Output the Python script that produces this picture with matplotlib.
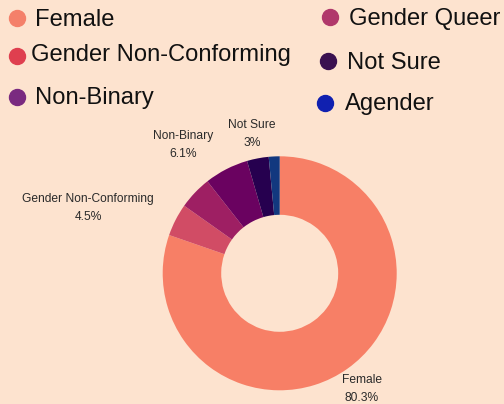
import matplotlib.pyplot as plt
from matplotlib.lines import Line2D

labels = ['Female', 'Gender Non-Conforming', 'Gender Queer', 'Non-Binary', 'Not Sure', 'Agender']
values = [80.3, 4.5, 4.6, 6.1, 3.0, 1.5]
slice_colors = ['#f77f66', '#d14c65', '#9e1f63', '#6a0260', '#26004f', '#12387f']
legend_colors = {'Female': '#f4806a', 'Gender Non-Conforming': '#df3f4f', 'Non-Binary': '#7a2a80',
                 'Gender Queer': '#b0386b', 'Not Sure': '#3a1050', 'Agender': '#1020b0'}
shown_labels = ['Gender Non-Conforming', 'Non-Binary', 'Not Sure', 'Female']

bg = '#fde3cf'
W, H = 504, 404
plt.rcParams['font.family'] = ['Liberation Sans', 'DejaVu Sans']

fig = plt.figure(figsize=(W / 100, H / 100), dpi=100, facecolor=bg)

# donut, centred at (280, 273) px with radius 117 px
cx, cy, r = 279.7, 273.3, 117
ax = fig.add_axes([(cx - r) / W, (H - cy - r) / H, 2 * r / W, 2 * r / H])
ax.set_facecolor(bg)
ax.pie(values, colors=slice_colors, startangle=90, counterclock=False, radius=1,
       wedgeprops=dict(width=0.5, linewidth=0))
ax.set_xlim(-1, 1)
ax.set_ylim(-1, 1)
ax.set_aspect('auto')
ax.axis('off')

# outside labels (pixel positions in the figure)
label_pos = {'Gender Non-Conforming': (88, 208), 'Non-Binary': (183, 145),
             'Not Sure': (252, 134), 'Female': (362, 389)}
for name in shown_labels:
    v = values[labels.index(name)]
    px, py = label_pos[name]
    txt = '%s\n%s%%' % (name, ('%.1f' % v).rstrip('0').rstrip('.'))
    fig.text(px / W, 1 - py / H, txt, ha='center', va='center', fontsize=8.65,
             color='#2a2a2a', linespacing=1.75)

# legend drawn by hand
legend_pos = {'Female': (17, 18, 35, 20), 'Gender Non-Conforming': (17, 56, 31, 55),
              'Non-Binary': (17, 97, 35, 98), 'Gender Queer': (330, 17, 349, 19),
              'Not Sure': (328, 61, 347, 63), 'Agender': (325, 103, 345, 104)}
for name, (mx, my, tx, ty) in legend_pos.items():
    fig.add_artist(Line2D([mx / W], [1 - my / H], marker='o', markersize=11.5,
                          color=legend_colors[name], linestyle='none',
                          transform=fig.transFigure))
    fig.text(tx / W, 1 - ty / H, name, ha='left', va='center', fontsize=17.1, color='#111111')

fig.savefig('out.png', dpi=100, facecolor=bg)
